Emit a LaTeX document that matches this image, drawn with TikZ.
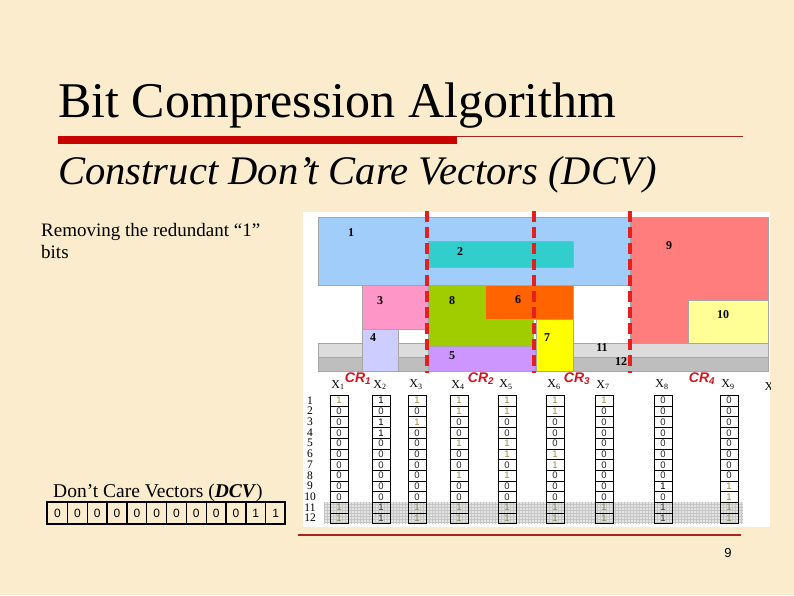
\documentclass[tikz,border=0pt]{standalone}
\usepackage{fontspec}
\setmainfont{Liberation Serif}
\setsansfont{Liberation Sans}
\definecolor{bg}{RGB}{250,236,204}
\definecolor{barred}{RGB}{200,0,0}
\definecolor{thinred}{RGB}{165,40,30}
\definecolor{c1}{RGB}{160,205,250}
\definecolor{c2}{RGB}{50,205,205}
\definecolor{c3}{RGB}{255,150,200}
\definecolor{c4}{RGB}{205,205,255}
\definecolor{c5}{RGB}{205,150,255}
\definecolor{c6}{RGB}{255,100,0}
\definecolor{c7}{RGB}{255,255,0}
\definecolor{c8}{RGB}{160,205,0}
\definecolor{c9}{RGB}{255,125,125}
\definecolor{c10}{RGB}{255,255,150}
\definecolor{c11}{RGB}{220,220,220}
\definecolor{c12}{RGB}{190,190,190}
\definecolor{crred}{RGB}{210,20,30}
\definecolor{dashred}{RGB}{230,30,30}
\definecolor{oliv}{RGB}{150,140,50}
\tikzset{
  blk/.style={draw=black!35,line width=0.4pt},
  blab/.style={font=\fontsize{12}{12}\selectfont\bfseries,inner sep=0pt},
  crlab/.style={font=\fontsize{14}{14}\selectfont\sffamily\bfseries\itshape,text=crred,inner sep=0pt},
  xlab/.style={font=\fontsize{12}{12}\selectfont,inner sep=0pt},
  rowlab/.style={font=\fontsize{11.5}{11.5}\selectfont,inner sep=0pt},
  cell/.style={draw=black,line width=0.6pt,minimum width=17.5pt,minimum height=10.7pt,inner sep=0pt,font=\fontsize{9.5}{9.5}\selectfont\sffamily,anchor=north west},
  dcvcell/.style={draw=black,line width=1.2pt,minimum width=19.83pt,minimum height=22pt,inner sep=0pt,font=\fontsize{12}{12}\selectfont\sffamily,anchor=north west},
  crline/.style={dashred,line width=3.5pt,dash pattern=on 11pt off 5pt},
}
\begin{document}
\begin{tikzpicture}[x=1pt,y=-1pt]
\fill[bg] (0,0) rectangle (794,595);
\useasboundingbox (0,0) rectangle (794,595);
% title
\node[anchor=base west,inner sep=0pt,font=\fontsize{50}{60}\selectfont] (title) at (58,117) {Bit Compression Algorithm};
\fill[barred] (58,136) rectangle (457,144);
\draw[thinred,line width=1pt] (457,136.5) -- (743,136.5);
\node[anchor=base west,inner sep=0pt,font=\fontsize{40.6}{48}\selectfont\itshape] (sub) at (58,184) {Construct Don’t Care Vectors (DCV)};
% left text
\node[anchor=base west,inner sep=0pt,font=\fontsize{19}{22}\selectfont] (rem1) at (41,236) {Removing the redundant “1”};
\node[anchor=base west,inner sep=0pt,font=\fontsize{19}{22}\selectfont] (rem2) at (41,258) {bits};
% image background
\fill[white] (303,212) rectangle (770,527);
% chart boxes
\filldraw[blk,fill=c1] (318,217) rectangle (630,285);
\filldraw[blk,fill=c9] (630,217) rectangle (768,343);
\filldraw[blk,fill=c10] (688,300) rectangle (768,343);
\filldraw[blk,fill=c11] (318,343) rectangle (768,357);
\filldraw[blk,fill=c12] (318,357) rectangle (768,371);
\filldraw[blk,fill=c2] (428,241) rectangle (573,267);
\filldraw[blk,fill=c3] (362,285) rectangle (428,329);
\filldraw[blk,fill=c4] (362,329) rectangle (398,371);
\filldraw[blk,fill=c8] (428,285) rectangle (533,346);
\filldraw[blk,fill=c6] (485,285) rectangle (573,319);
\filldraw[blk,fill=c7] (536,319) rectangle (573,371);
\filldraw[blk,fill=c5] (428,346) rectangle (535,371);
\node[blab] (b1) at (351,233) {1};
\node[blab] (b2) at (460,252) {2};
\node[blab] (b3) at (380,301) {3};
\node[blab] (b8) at (452,301) {8};
\node[blab] (b6) at (518,300) {6};
\node[blab] (b4) at (373,338) {4};
\node[blab] (b7) at (547,338) {7};
\node[blab] (b5) at (452,356) {5};
\node[blab] (b11) at (602,348) {11};
\node[blab] (b12) at (621,362) {12};
\node[blab] (b9) at (669,246) {9};
\node[blab] (b10) at (723,315) {10};
% dashed CR lines
\coordinate (d1t) at (427,211); \coordinate (d1b) at (427,373);
\coordinate (d2t) at (534,211); \coordinate (d2b) at (534,373);
\coordinate (d3t) at (630,211); \coordinate (d3b) at (630,373);
\draw[crline] (d1t) -- (d1b);
\draw[crline] (d2t) -- (d2b);
\draw[crline] (d3t) -- (d3b);
% CR labels
\node[crlab] (cr1) at (358,379) {CR\textsubscript{1}};
\node[crlab] (cr2) at (481,379) {CR\textsubscript{2}};
\node[crlab] (cr3) at (577,379) {CR\textsubscript{3}};
\node[crlab] (cr4) at (702,379) {CR\textsubscript{4}};
% shaded band rows 11-12
\fill[gray!22] (324,502) rectangle (743,523.4);
\begin{scope}
\clip (324,502) rectangle (743,523.4);
\draw[gray!45,line width=0.3pt,step=3pt] (324,502) grid (743,524);
\end{scope}
% row labels
\foreach \r in {1,...,12}{
  \node[rowlab] (r\r) at (310,{395+10.7*(\r-0.5)}) {\r};
}
% columns
\foreach \c/\xl/\vals/\oc in {
  1/330/{1,0,0,0,0,0,0,0,0,0,1,1}/oliv,
  2/372/{1,0,1,1,0,0,0,0,0,0,1,1}/black,
  3/408/{1,0,1,0,0,0,0,0,0,0,1,1}/oliv,
  4/450/{1,1,0,0,1,0,0,1,0,0,1,1}/oliv,
  5/498/{1,1,0,0,1,1,0,1,0,0,1,1}/oliv,
  6/546/{1,1,0,0,0,1,1,0,0,0,1,1}/oliv,
  7/595/{1,0,0,0,0,0,0,0,0,0,1,1}/oliv,
  8/654/{0,0,0,0,0,0,0,0,1,0,1,1}/black,
  9/720/{0,0,0,0,0,0,0,0,1,1,1,1}/oliv}{
  \node[xlab] (h\c) at (\xl+8,385) {X\textsubscript{\c}};
  \foreach \v [count=\r] in \vals {
    \ifnum\v=1 \def\tc{\oc}\else\def\tc{black!85}\fi
    \ifnum\r>10 \node[cell,text=\tc!60!gray] (c\c-\r) at (\xl,{395+10.7*(\r-1)}) {\v};
    \else \node[cell,text=\tc] (c\c-\r) at (\xl,{395+10.7*(\r-1)}) {\v};\fi
  }
}
\begin{scope}
\clip (303,212) rectangle (770,527);
\node[xlab] (h10) at (769,387) {X};
\end{scope}
% DCV
\node[anchor=base west,inner sep=0pt,font=\fontsize{19.5}{22}\selectfont] (dcvt) at (53,497) {Don’t Care Vectors (\textbf{\textit{DCV}})};
\foreach \v [count=\i] in {0,0,0,0,0,0,0,0,0,0,1,1}{
  \node[dcvcell] (v\i) at ({47+19.83*(\i-1)},502) {\v};
}
\draw[line width=2.6pt] (47,502) rectangle (285,524);
% bottom line and page number
\coordinate (bl) at (298,535); \coordinate (br) at (741,535);
\draw[thinred,line width=1.2pt] (bl) -- (br);
\node[inner sep=0pt,font=\fontsize{13}{13}\selectfont\sffamily] (pg) at (728,553) {9};
\end{tikzpicture}
\end{document}
